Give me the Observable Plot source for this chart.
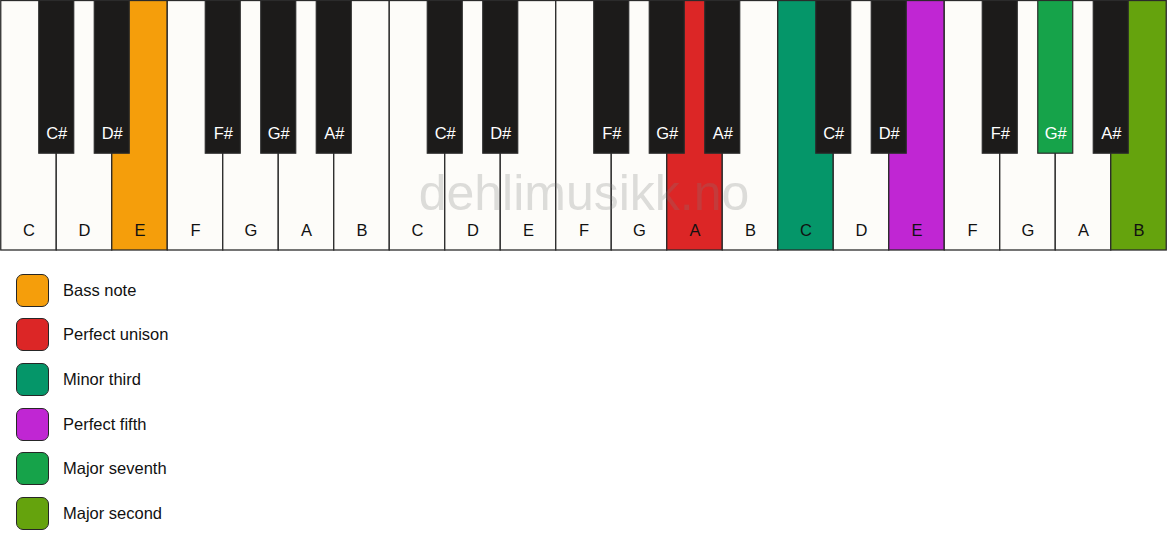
<!DOCTYPE html>
<html>
<head>
<meta charset="utf-8">
<script src="https://cdn.jsdelivr.net/npm/d3@7"></script>
<script src="https://cdn.jsdelivr.net/npm/@observablehq/plot@0.6"></script>
<style>
  html, body { margin: 0; padding: 0; background: #ffffff; }
  body { font-family: "Liberation Sans", Arial, sans-serif; width: 1167px; height: 550px; overflow: hidden; }
  #legend { position: relative; margin-top: 17px; }
  .item { display: flex; align-items: center; height: 44.6px; }
  .swatch { width: 31px; height: 31px; margin-left: 16px; border: 1.5px solid #262626; border-radius: 7px; box-sizing: content-box; }
  .lab { margin-left: 14px; font-size: 16.5px; color: #111; }
</style>
</head>
<body>
<div id="chart"></div>
<div id="legend"></div>
<script>
// ---- data ----
const whiteNames = ["C", "D", "E", "F", "G", "A", "B"];
const blackNames = ["C#", "D#", "F#", "G#", "A#"];
const blackAfterWhite = [1, 2, 4, 5, 6];   // boundary (in white keys) where each black key sits
const octaves = [0, 1, 2];
const highlightKeys = ["E0", "A1", "C2", "E2", "G#2", "B2"];
const highlightLabels = ["Bass note", "Perfect unison", "Minor third", "Perfect fifth", "Major seventh", "Major second"];
const highlightColors = ["#f59e0b", "#dc2626", "#059669", "#c026d3", "#16a34a", "#65a30d"];
const watermark = "dehlimusikk.no";

// ---- build tables ----
const colorOf = new Map(highlightKeys.map((k, i) => [k, highlightColors[i]]));
const whites = [];
const blacks = [];
for (const o of octaves) {
  whiteNames.forEach((n, i) => {
    const idx = o * 7 + i;
    whites.push({name: n, x1: idx, x2: idx + 1, xm: idx + 0.5, fill: colorOf.get(n + o) || "#fdfcf9"});
  });
  blackNames.forEach((n, i) => {
    const b = o * 7 + blackAfterWhite[i];
    const c = colorOf.get(n + o);
    blacks.push({name: n, x1: b - 0.315, x2: b + 0.315, xm: b, fill: c || "#1c1b1a"});
  });
}
const nWhite = whites.length;

const chart = Plot.plot({
  width: 1167,
  height: 251,
  margin: 0,
  x: {domain: [0, nWhite], range: [0.75, 1166.25], axis: null},
  y: {domain: [0, 1], range: [0.5, 250], axis: null},
  style: {fontFamily: "'Liberation Sans', Arial, sans-serif", background: "transparent"},
  marks: [
    Plot.rect(whites, {x1: "x1", x2: "x2", y1: 0, y2: 1, fill: "fill", stroke: "#2b2b2b", strokeWidth: 1.3}),
    Plot.rect(blacks, {x1: "x1", x2: "x2", y1: 0, y2: 0.612, fill: "fill", stroke: "#2b2b2b", strokeWidth: 1.2}),
    Plot.text(whites, {x: "xm", y: 0.92, text: "name", fill: "#111", fontSize: 16.5}),
    Plot.text(blacks, {x: "xm", y: 0.53, text: "name", fill: "#ffffff", fontSize: 16.5}),
    Plot.text([watermark], {x: nWhite / 2, y: 0.772, text: d => d, fill: "#7a7a7a", fillOpacity: 0.25, fontSize: 50})
  ]
});
document.getElementById("chart").appendChild(chart);

const legend = d3.select("#legend");
highlightLabels.forEach((l, i) => {
  const it = legend.append("div").attr("class", "item");
  it.append("div").attr("class", "swatch").style("background", highlightColors[i]);
  it.append("div").attr("class", "lab").text(l);
});
</script>
</body>
</html>
